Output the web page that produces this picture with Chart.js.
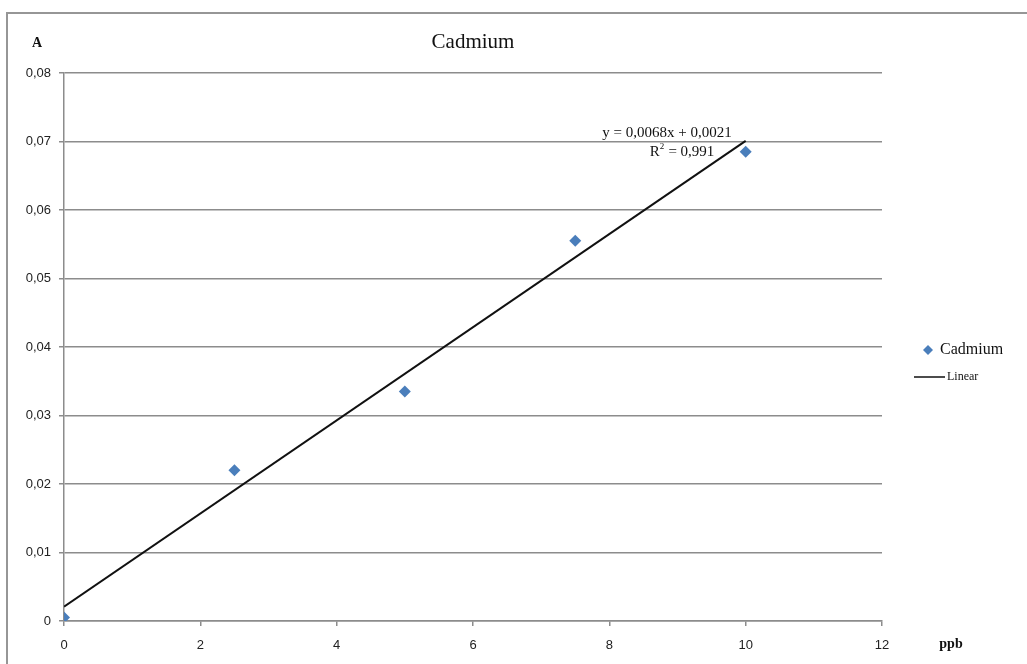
<!DOCTYPE html>
<html>
<head>
<meta charset="utf-8">
<title>Cadmium</title>
<script src="https://cdn.jsdelivr.net/npm/chart.js@4"></script>
<style>
   html, body { margin: 0; padding: 0; background: #fff; }
   #chart1 { display: block; }
</style>
</head>
<body>
<canvas id="chart1" width="1027" height="664"></canvas>
<script>
/*=================================>> DATA  <<=================================*/

const concentrations = [0, 2.5, 5, 7.5, 10];          // ppb
const absorbances = [0.0005, 0.022, 0.0335, 0.0555, 0.0685];
const slope = 0.0068;
const intercept = 0.0021;
const rSquared = "0,991";
const xTicks = [0, 2, 4, 6, 8, 10, 12];
const yTicks = [0, 0.01, 0.02, 0.03, 0.04, 0.05, 0.06, 0.07, 0.08];

const fitLine = [
   { x: concentrations[0], y: slope * concentrations[0] + intercept },
   { x: concentrations[concentrations.length - 1], y: slope * concentrations[concentrations.length - 1] + intercept },
];

const comma = (v) => String(v).replace(".", ",");
const fmtY = (v) => v === 0 ? "0" : v.toFixed(2).replace(".", ",");

/*=================================>> CHART  <<=================================*/

const blue = "rgb(74, 126, 187)";
const gridGray = "rgb(140, 140, 140)";
const serif = "'Liberation Serif', 'DejaVu Serif', serif";
const sans = "'Liberation Sans', 'DejaVu Sans', sans-serif";

// frame, title, axis names, trendline equation and legend
const decorations = {
   id: "decorations",
   beforeDraw(chart) {
      const ctx = chart.ctx;
      ctx.save();
      ctx.fillStyle = "#fff";
      ctx.fillRect(0, 0, chart.width, chart.height);
      ctx.strokeStyle = "rgb(150, 150, 150)";
      ctx.lineWidth = 2;
      ctx.beginPath();
      ctx.moveTo(7, chart.height);
      ctx.lineTo(7, 13);
      ctx.lineTo(chart.width, 13);
      ctx.stroke();
      ctx.restore();
   },
   afterDraw(chart) {
      const ctx = chart.ctx;
      const area = chart.chartArea;
      ctx.save();
      ctx.fillStyle = "#111";
      ctx.textBaseline = "middle";

      ctx.textAlign = "center";
      ctx.font = `21px ${serif}`;
      ctx.fillText("Cadmium", (area.left + area.right) / 2, 42);

      ctx.font = `bold 14px ${serif}`;
      ctx.fillText("A", 37, 43);
      ctx.fillText("ppb", 951, 644);

      // trendline label
      ctx.font = `15px ${serif}`;
      ctx.fillText(`y = ${comma(slope)}x + ${comma(intercept)}`, 667, 133);
      const rest = " = " + rSquared;
      const rW = ctx.measureText("R").width;
      const restW = ctx.measureText(rest).width;
      const supW = 5;
      let rx = 682 - (rW + supW + restW) / 2;
      ctx.textAlign = "left";
      ctx.fillText("R", rx, 152);
      ctx.font = `9px ${serif}`;
      ctx.fillText("2", rx + rW, 147);
      ctx.font = `15px ${serif}`;
      ctx.fillText(rest, rx + rW + supW, 152);

      // legend
      const lx = 928, ly = 350;
      ctx.fillStyle = blue;
      ctx.beginPath();
      ctx.moveTo(lx, ly - 5);
      ctx.lineTo(lx + 5, ly);
      ctx.lineTo(lx, ly + 5);
      ctx.lineTo(lx - 5, ly);
      ctx.closePath();
      ctx.fill();
      ctx.fillStyle = "#111";
      ctx.font = `16px ${serif}`;
      ctx.fillText("Cadmium", 940, ly);

      ctx.strokeStyle = "#111";
      ctx.lineWidth = 1.5;
      ctx.beginPath();
      ctx.moveTo(914, 377);
      ctx.lineTo(945, 377);
      ctx.stroke();
      ctx.font = `12px ${serif}`;
      ctx.fillText("Linear", 947, 377);
      ctx.restore();
   }
};

const config = {
   type: "scatter",
   data: {
      datasets: [
         {
            label: "Cadmium",
            data: concentrations.map((x, i) => ({ x, y: absorbances[i] })),
            pointStyle: "rectRot",
            pointRadius: 6,
            pointHoverRadius: 6,
            backgroundColor: blue,
            borderColor: blue,
            borderWidth: 0,
            order: 1,
         },
         {
            label: "Linear",
            type: "line",
            data: fitLine,
            showLine: true,
            pointRadius: 0,
            borderColor: "#111",
            borderWidth: 2,
            fill: false,
            order: 2,
         },
      ]
   },
   options: {
      responsive: false,
      animation: false,
      layout: {
         padding: { left: 0, top: 73, right: 145, bottom: 0 }
      },
      plugins: {
         legend: { display: false },
         title: { display: false },
         tooltip: { enabled: false },
      },
      scales: {
         x: {
            type: "linear",
            min: 0,
            max: 12,
            afterBuildTicks: (scale) => { scale.ticks = xTicks.map(v => ({ value: v })); },
            afterFit: (scale) => { scale.height = 43; },
            grid: {
               display: true,
               drawOnChartArea: false,
               drawTicks: true,
               tickLength: 5,
               color: gridGray,
               lineWidth: 1.5,
            },
            border: { display: true, color: gridGray, width: 1.5 },
            ticks: {
               color: "#222",
               font: { size: 13, family: sans },
               padding: 12,
               maxRotation: 0,
               callback: (v) => comma(v),
            },
         },
         y: {
            min: 0,
            max: 0.08,
            afterBuildTicks: (scale) => { scale.ticks = yTicks.map(v => ({ value: v })); },
            afterFit: (scale) => { scale.width = 64; },
            grid: {
               display: true,
               color: gridGray,
               lineWidth: 1.5,
               tickLength: 5,
            },
            border: { display: true, color: gridGray, width: 1.5 },
            ticks: {
               color: "#222",
               font: { size: 13, family: sans },
               padding: 8,
               callback: (v) => fmtY(v),
            },
         },
      },
   },
   plugins: [decorations],
};

new Chart(document.querySelector("#chart1"), config);
</script>
</body>
</html>
